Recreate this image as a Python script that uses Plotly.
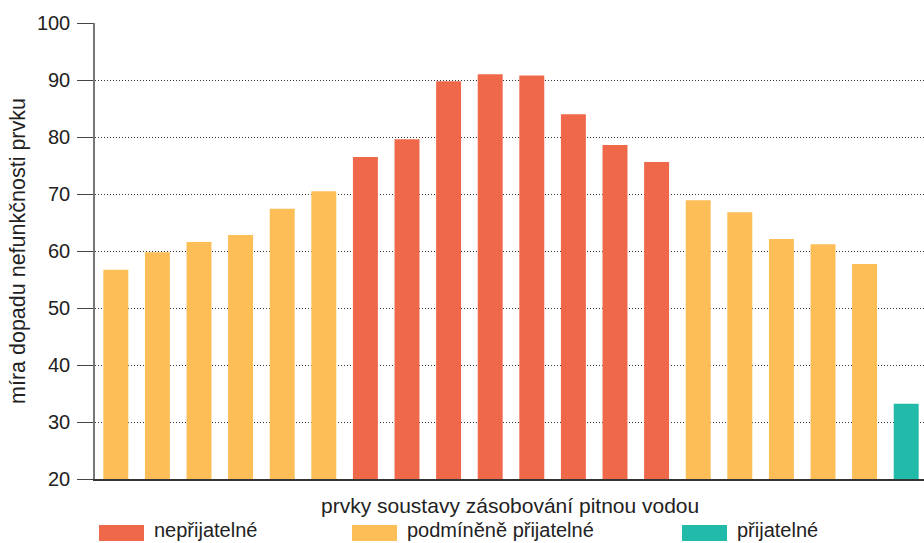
import plotly.graph_objects as go

# Elements of the drinking-water supply system, numbered left to right
elements = list(range(1, 21))
impact = [56.7, 59.8, 61.6, 62.8, 67.4, 70.5, 76.5, 79.6, 89.8, 91.0,
          90.8, 84.0, 78.6, 75.6, 68.9, 66.8, 62.1, 61.2, 57.7, 33.2]
category = ["podm"] * 6 + ["nep"] * 8 + ["podm"] * 5 + ["pri"]

cat_keys = ["nep", "podm", "pri"]
cat_labels = ["nepřijatelné", "podmíněně přijatelné", "přijatelné"]
cat_colors = ["#F0684A", "#FDBD57", "#22BBAA"]

y_ticks = [20, 30, 40, 50, 60, 70, 80, 90, 100]
x_title = "prvky soustavy zásobování pitnou vodou"
y_title = "míra dopadu nefunkčnosti prvku"

FONT = "Liberation Sans, Arial, Helvetica, sans-serif"
TEXT = "#222222"

fig = go.Figure()
for key, label, color in zip(cat_keys, cat_labels, cat_colors):
    xs = [e for e, c in zip(elements, category) if c == key]
    ys = [v for v, c in zip(impact, category) if c == key]
    fig.add_trace(go.Bar(x=xs, y=ys, name=label, marker_color=color,
                         marker_line_width=0, width=0.6, showlegend=False))

W, H = 924, 543
ML, MR, MT, MB = 95, 0, 23, 64
plot_w = W - ML - MR
plot_h = H - MT - MB

fig.update_layout(
    width=W, height=H,
    margin=dict(l=ML, r=MR, t=MT, b=MB, pad=0),
    paper_bgcolor="white", plot_bgcolor="white",
    barmode="overlay",
    font=dict(family=FONT, color=TEXT, size=20),
    xaxis=dict(range=[0.5, 0.5 + plot_w / 41.6], showticklabels=False,
               ticks="", showgrid=False, zeroline=False,
               showline=True, linecolor="#333333", linewidth=1.5),
    yaxis=dict(range=[20, 100], tickvals=y_ticks, ticks="outside",
               ticklen=16, tickwidth=1.2, tickcolor="#444444",
               ticklabelstandoff=3,
               tickfont=dict(size=20, color=TEXT),
               showgrid=True, gridcolor="#333333", gridwidth=1,
               griddash="1px,2px", zeroline=False,
               showline=True, linecolor="#777777", linewidth=1.5),
)

def px_x(p):
    return (p - ML) / plot_w

def px_y(p):
    return (H - MB - p) / plot_h

annotations = [
    dict(text=x_title, x=0.5, y=px_y(506), xref="paper", yref="paper",
         xanchor="center", yanchor="middle", showarrow=False,
         font=dict(size=21, color=TEXT)),
    dict(text=y_title, x=px_x(18), y=0.5, xref="paper", yref="paper",
         xanchor="center", yanchor="middle", textangle=-90, showarrow=False,
         font=dict(size=21.5, color=TEXT)),
]
shapes = []

# Legend row below the axis title: wide colour swatches with labels
legend_x = [99, 352, 682]
for lx, label, color in zip(legend_x, cat_labels, cat_colors):
    shapes.append(dict(type="rect", xref="paper", yref="paper",
                       x0=px_x(lx), x1=px_x(lx + 45),
                       y0=px_y(541), y1=px_y(525),
                       fillcolor=color, line_width=0, layer="above"))
    annotations.append(dict(text=label, x=px_x(lx + 53), y=px_y(530),
                            xref="paper", yref="paper", xanchor="left",
                            yanchor="middle", showarrow=False,
                            font=dict(size=20, color=TEXT)))

fig.update_layout(annotations=annotations, shapes=shapes)
fig.write_html("out.html")
